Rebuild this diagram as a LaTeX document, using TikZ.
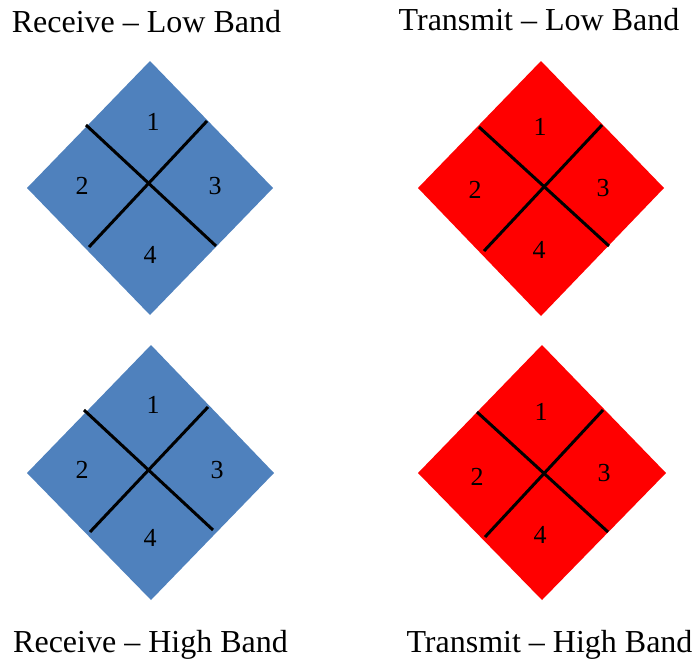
\documentclass[tikz,border=0pt]{standalone}
\usepackage{fontspec}
\setmainfont{Liberation Serif}
\definecolor{rxblue}{RGB}{79,129,189}
\definecolor{txred}{RGB}{255,0,0}
\begin{document}
\begin{tikzpicture}[x=1pt,y=-1pt,
  title/.style={anchor=base,inner sep=0pt,font=\fontsize{32}{38}\selectfont},
  num/.style={inner sep=0pt,font=\fontsize{26}{30}\selectfont},
  divider/.style={line width=3pt,black}]
\useasboundingbox (0,0) rectangle (699,665);
% titles
\node[title] (t1) at (146.5,32) {Receive – Low Band};
\node[title] (t2) at (539,30) {Transmit – Low Band};
\node[title] (t3) at (150.5,652) {Receive – High Band};
\node[title] (t4) at (549.5,652) {Transmit – High Band};
% top-left
\fill[rxblue] (150,61) -- (273,188) -- (150,315) -- (27,188) -- cycle;
\draw[divider] (86,125) -- (216,246);
\draw[divider] (207,121) -- (89,247);
\node[num] (a1) at (153,122) {1};
\node[num] (a2) at (82,186) {2};
\node[num] (a3) at (215,186) {3};
\node[num] (a4) at (150,255) {4};
% top-right
\fill[txred] (541,61) -- (664,188) -- (541,316) -- (418,188) -- cycle;
\draw[divider] (479,127) -- (609,246);
\draw[divider] (602,125) -- (484,251);
\node[num] (b1) at (540,127) {1};
\node[num] (b2) at (475,190) {2};
\node[num] (b3) at (603,188) {3};
\node[num] (b4) at (539,250) {4};
% bottom-left
\fill[rxblue] (151,345) -- (274,473) -- (151,600) -- (27,473) -- cycle;
\draw[divider] (84,410) -- (213,530);
\draw[divider] (208,407) -- (90,532);
\node[num] (c1) at (153,405) {1};
\node[num] (c2) at (82,470) {2};
\node[num] (c3) at (217,470) {3};
\node[num] (c4) at (150,538) {4};
% bottom-right
\fill[txred] (542,345) -- (666,473) -- (542,600) -- (418,473) -- cycle;
\draw[divider] (477,412) -- (608,532);
\draw[divider] (603,410) -- (485,537);
\node[num] (d1) at (541,412) {1};
\node[num] (d2) at (477,477) {2};
\node[num] (d3) at (604,473) {3};
\node[num] (d4) at (540,535) {4};
\end{tikzpicture}
\end{document}
